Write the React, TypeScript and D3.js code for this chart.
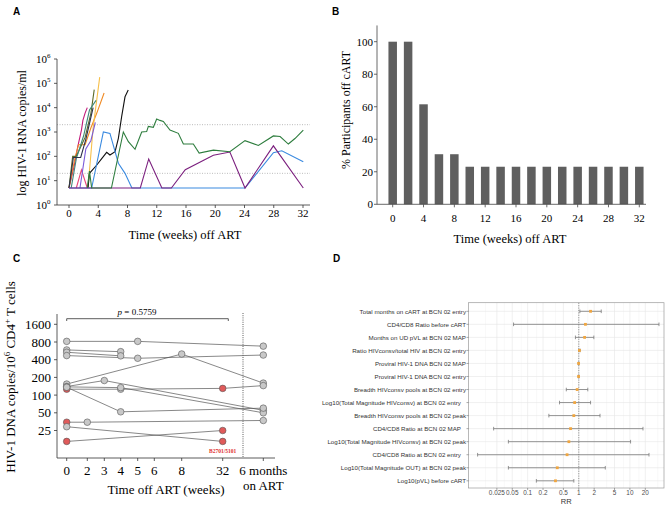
import React from "react";
import * as d3 from "d3";

// ---------- Panel A data: HIV-1 RNA (copies/ml) by week off ART ----------
type Pt = [number, number];
const aSeries: { color: string; pts: Pt[] }[] = [
  { color: "#c2187a", pts: [[0, 5], [0.7, 40], [1.2, 250], [1.7, 1200], [1.9, 3000], [2.2, 6000], [2.5, 10000]] },
  { color: "#e8457a", pts: [[1, 5], [1.7, 28], [2.5, 5]] },
  { color: "#f08a24", pts: [[0, 5], [0.8, 80], [1.3, 300], [2.2, 300], [3, 1500], [3.8, 6000], [4.8, 40000]] },
  { color: "#f7c04a", pts: [[2.6, 5], [3.3, 1500], [4.2, 180000]] },
  { color: "#5b6b2a", pts: [[0, 5], [0.5, 100], [1, 100], [2.2, 600], [3, 6000], [3.45, 55000]] },
  { color: "#3f8a7a", pts: [[0.3, 5], [1, 80], [2, 700], [2.8, 8000], [3.7, 20000]] },
  { color: "#7a5ad8", pts: [[1.5, 5], [2.3, 200], [3, 450], [3.6, 2500]] },
  { color: "#2b2f4a", pts: [[0, 5], [0.6, 90], [1.6, 90], [2.3, 500], [2.9, 3000], [3.3, 10000]] },
  { color: "#111111", pts: [[2.6, 5], [2.8, 20], [3.8, 44], [4.5, 83], [5.15, 146], [5.6, 113], [6.3, 155], [6.75, 550], [7.2, 4300], [7.66, 28000], [8.1, 53000]] },
  { color: "#3a8ae0", pts: [[0, 5], [3.1, 5], [4.7, 1000], [5.6, 880], [6.75, 52], [7.66, 20], [8.6, 5], [24.07, 5], [27.95, 140], [29.1, 170], [32.04, 60]] },
  { color: "#7b1f7e", pts: [[0, 5], [9.75, 5], [10.9, 78], [12.7, 5], [14, 5], [15.9, 28], [19.74, 110], [22, 150], [24.07, 5], [27.95, 270], [32.04, 5]] },
  { color: "#2e7d3e", pts: [[2.5, 5], [2.8, 25], [3.1, 5], [5.8, 5], [7.43, 1000], [8.12, 400], [9.03, 195], [9.94, 1000], [10.62, 1040], [10.85, 1700], [11.53, 1560], [11.99, 3400], [12.44, 3000], [12.9, 2700], [13.81, 1200], [14.95, 880], [15.64, 320], [17, 320], [17.8, 135], [19.74, 180], [22, 155], [24.07, 440], [25.9, 280], [27.95, 690], [28.87, 650], [30, 320], [30.9, 540], [32.04, 1200]] },
];
const aRefLines = [20, 2000];
const aXTicks = [0, 4, 8, 12, 16, 20, 24, 28, 32];
const aYExps = [0, 1, 2, 3, 4, 5, 6];

// ---------- Panel B data ----------
const bWeeks = [0, 2, 4, 6, 8, 10, 12, 14, 16, 18, 20, 22, 24, 26, 28, 30, 32];
const bValues = [100, 100, 61.5, 30.8, 30.8, 23.1, 23.1, 23.1, 23.1, 23.1, 23.1, 23.1, 23.1, 23.1, 23.1, 23.1, 23.1];
const bXTicks = [0, 4, 8, 12, 16, 20, 24, 28, 32];
const bYTicks = [0, 20, 40, 60, 80, 100];

// ---------- Panel C data ----------
// time keys: weeks, 40 = "6 months on ART"
const cTickKeys = [0, 2, 3, 4, 5, 6, 8, 32, 40];
const cTickLabels = ["0", "2", "3", "4", "5", "6", "8", "32", ""];
const cTickOffsets = [0, 20.6, 37.6, 54, 71, 87.6, 115, 156, 196.6];
const cYTicks = [25, 50, 100, 200, 400, 800, 1600];
// [timeKey, copies, isRed]
const cParticipants: [number, number, boolean][][] = [
  [[0, 820, false], [5, 820, false], [40, 680, false]],
  [[0, 586, false], [4, 548, false]],
  [[0, 535, false], [4, 465, false]],
  [[0, 470, false], [5, 423, false], [40, 480, false]],
  [[0, 154, false], [8, 500, false], [40, 160, false]],
  [[0, 126, true], [4, 126, false], [32, 130, true], [40, 145, false]],
  [[0, 140, false], [3, 177, false], [40, 55, false]],
  [[0, 138, false], [4, 134, false], [40, 50, false]],
  [[0, 136, false], [4, 52, false], [40, 60, false]],
  [[0, 34.6, true], [2, 34.6, false], [40, 37, false]],
  [[0, 29, false], [32, 16.3, true]],
  [[0, 16.3, true], [32, 25, true]],
];

// ---------- Panel D data ----------
const dLabels = [
  "Total months on cART at BCN 02 entry",
  "CD4/CD8 Ratio before cART",
  "Months on UD pVL at BCN 02 MAP",
  "Ratio HIVconsv/total HIV at BCN 02 entry",
  "Proviral HIV-1 DNA BCN 02 MAP",
  "Proviral HIV-1 DNA BCN 02 entry",
  "Breadth HIVconsv pools at BCN 02 entry",
  "Log10(Total Magnitude HIVconsv) at BCN 02 entry   ",
  "Breadth HIVconsv pools at BCN 02 peak",
  "CD4/CD8 Ratio at BCN 02 MAP   ",
  "Log10(Total Magnitude HIVconsv) at BCN 02 peak",
  "CD4/CD8 Ratio at BCN 02 entry   ",
  "Log10(Total Magnitude OUT) at BCN 02 peak",
  "Log10(pVL) before cART",
];
const dRR = [1.7, 1.35, 1.3, 1.03, 0.99, 0.99, 0.93, 0.83, 0.8, 0.69, 0.64, 0.59, 0.38, 0.35];
const dLow = [1.05, 0.053, 0.86, 1.0, 0.98, 0.98, 0.57, 0.42, 0.26, 0.0216, 0.042, 0.0105, 0.042, 0.148];
const dHigh = [2.75, 37, 1.97, 1.06, 1.01, 1.01, 1.5, 1.7, 2.6, 18, 10.3, 23.6, 3.3, 0.8];
const dTicks = [0.025, 0.05, 0.1, 0.2, 0.5, 1, 2, 5, 10, 20];
const dTickLabels = ["0.025", "0.05", "0.1", "0.2", "0.5", "1", "2", "5", "10", "20"];

const SERIF = "'Liberation Serif', 'Times New Roman', serif";
const SANS = "'Liberation Sans', Arial, sans-serif";

function PanelA() {
  const x = d3.scaleLinear().domain([0, 32]).range([69, 303]);
  const y = d3.scaleLog().domain([1, 1e6]).range([205, 59]);
  const line = d3.line<Pt>().x((d) => x(d[0])).y((d) => y(d[1]));
  const x0 = 57, x1 = 310, yb = 205;
  return (
    <g>
      <text x={13} y={15} fontFamily={SANS} fontWeight="bold" fontSize={10}>A</text>
      {aRefLines.map((v) => (
        <line key={v} x1={x0} x2={x1} y1={y(v)} y2={y(v)} stroke="#aaa" strokeWidth={0.8} strokeDasharray="1,1.5" />
      ))}
      {aSeries.map((s, i) => (
        <path key={i} d={line(s.pts) || ""} fill="none" stroke={s.color} strokeWidth={1.1} />
      ))}
      <line x1={x0} x2={x0} y1={y(1e6)} y2={yb} stroke="#333" strokeWidth={0.8} />
      <line x1={x0} x2={x1} y1={yb} y2={yb} stroke="#333" strokeWidth={0.8} />
      {aYExps.map((e) => (
        <g key={e}>
          <line x1={x0 - 3} x2={x0} y1={y(10 ** e)} y2={y(10 ** e)} stroke="#333" strokeWidth={0.8} />
          <text x={47} y={y(10 ** e) + 4} textAnchor="end" fontFamily={SERIF} fontSize={11}>10</text>
          <text x={47} y={y(10 ** e) - 1} fontFamily={SERIF} fontSize={7}>{e}</text>
        </g>
      ))}
      {aXTicks.map((t) => (
        <g key={t}>
          <line x1={x(t)} x2={x(t)} y1={yb} y2={yb + 3} stroke="#333" strokeWidth={0.8} />
          <text x={x(t)} y={217} textAnchor="middle" fontFamily={SERIF} fontSize={11}>{t}</text>
        </g>
      ))}
      <text x={185} y={239} textAnchor="middle" fontFamily={SERIF} fontSize={12.5}>Time (weeks) off ART</text>
      <text transform={`translate(26,133) rotate(-90)`} textAnchor="middle" fontFamily={SERIF} fontSize={12}>log HIV-1 RNA copies/ml</text>
    </g>
  );
}

function PanelB() {
  const x = d3.scaleLinear().domain([0, 32]).range([392.7, 639.3]);
  const y = d3.scaleLinear().domain([0, 100]).range([204.3, 41.7]);
  const bw = 8.5;
  const x0 = 377, x1 = 646;
  return (
    <g>
      <text x={332} y={15} fontFamily={SANS} fontWeight="bold" fontSize={10}>B</text>
      {bWeeks.map((w, i) => (
        <rect key={w} x={x(w) - bw / 2} y={y(bValues[i])} width={bw} height={y(0) - y(bValues[i])} fill="#5f5f5f" />
      ))}
      <line x1={x0} x2={x0} y1={y(110)} y2={y(0)} stroke="#444" strokeWidth={0.8} />
      <line x1={x0} x2={x1} y1={y(0)} y2={y(0)} stroke="#444" strokeWidth={0.8} />
      {bYTicks.map((t) => (
        <g key={t}>
          <line x1={x0 - 3} x2={x0} y1={y(t)} y2={y(t)} stroke="#444" strokeWidth={0.8} />
          <text x={373} y={y(t) + 4} textAnchor="end" fontFamily={SERIF} fontSize={11}>{t}</text>
        </g>
      ))}
      {bXTicks.map((t) => (
        <g key={t}>
          <line x1={x(t)} x2={x(t)} y1={y(0)} y2={y(0) + 3} stroke="#444" strokeWidth={0.8} />
          <text x={x(t)} y={222} textAnchor="middle" fontFamily={SERIF} fontSize={11}>{t}</text>
        </g>
      ))}
      <text x={510} y={243} textAnchor="middle" fontFamily={SERIF} fontSize={12.5}>Time (weeks) off ART</text>
      <text transform={`translate(350,110) rotate(-90)`} textAnchor="middle" fontFamily={SERIF} fontSize={12}>% Participants  off cART</text>
    </g>
  );
}

function PanelC() {
  const xBase = 66.7;
  const x = d3.scaleLinear().domain(cTickKeys).range(cTickOffsets.map((o) => xBase + o));
  const y = d3.scaleLog().base(2).domain([25, 1600]).range([430.5, 324.3]);
  const yAxisX = 57, yTop = 314, yBot = 458, xEnd = 275;
  const line = d3.line<[number, number, boolean]>().x((d) => x(d[0])).y((d) => y(d[1]));
  const sepX = (x(32) + x(40)) / 2;
  return (
    <g>
      <text x={13} y={262} fontFamily={SANS} fontWeight="bold" fontSize={10}>C</text>
      <line x1={yAxisX} x2={yAxisX} y1={yTop} y2={yBot} stroke="#333" strokeWidth={0.8} />
      <line x1={yAxisX} x2={xEnd} y1={yBot} y2={yBot} stroke="#333" strokeWidth={0.8} />
      <line x1={sepX} x2={sepX} y1={313} y2={yBot} stroke="#333" strokeWidth={0.8} strokeDasharray="1,1.2" />
      {cYTicks.map((t) => (
        <g key={t}>
          <line x1={yAxisX - 3} x2={yAxisX} y1={y(t)} y2={y(t)} stroke="#333" strokeWidth={0.8} />
          <text x={51} y={y(t) + 4.5} textAnchor="end" fontFamily={SERIF} fontSize={13}>{t}</text>
        </g>
      ))}
      {cTickKeys.map((k, i) => (
        <g key={k}>
          <line x1={x(k)} x2={x(k)} y1={yBot} y2={yBot + 3} stroke="#333" strokeWidth={0.8} />
          {cTickLabels[i] && (
            <text x={x(k)} y={475} textAnchor="middle" fontFamily={SERIF} fontSize={13}>{cTickLabels[i]}</text>
          )}
        </g>
      ))}
      <text x={x(40)} y={475} textAnchor="middle" fontFamily={SERIF} fontSize={13}>6 months</text>
      <text x={x(40)} y={490} textAnchor="middle" fontFamily={SERIF} fontSize={13}>on ART</text>
      <text x={166} y={494} textAnchor="middle" fontFamily={SERIF} fontSize={13}>Time off ART (weeks)</text>
      <text transform={`translate(15,377) rotate(-90)`} textAnchor="middle" fontFamily={SERIF} fontSize={13}>
        HIV-1 DNA copies/10<tspan dy={-5} fontSize={9}>6</tspan><tspan dy={5}> CD4</tspan><tspan dy={-5} fontSize={9}>+</tspan><tspan dy={5}> T cells</tspan>
      </text>
      {/* p-value bracket */}
      <path d={`M${x(0)},321 V318.7 H${x(32) + 5.6} V321`} fill="none" stroke="#333" strokeWidth={0.8} />
      <text x={137} y={315} textAnchor="middle" fontFamily={SERIF} fontSize={9}>
        <tspan fontStyle="italic">p</tspan> = 0.5759
      </text>
      {cParticipants.map((p, i) => (
        <path key={i} d={line(p) || ""} fill="none" stroke="#555" strokeWidth={0.7} />
      ))}
      {cParticipants.map((p, i) =>
        p.map((d, j) => (
          <circle key={`${i}-${j}`} cx={x(d[0])} cy={y(d[1])} r={3.3} fill={d[2] ? "#e05a5a" : "#c8c8c8"} stroke="#555" strokeWidth={0.6} />
        ))
      )}
      <text x={x(32)} y={y(16.3) + 12} textAnchor="middle" fontFamily={SERIF} fontWeight="bold" fontSize={5.5} fill="#e03030">B2701/5101</text>
    </g>
  );
}

function PanelD() {
  const left = 468.5, right = 664, top = 302.7, bottom = 488;
  const x = d3.scaleLog().domain([0.00697, 46.4]).range([left, right]);
  const y = d3.scalePoint<string>().domain(dLabels).range([311.3, 480.8]);
  const minor = [0.015, 0.035, 0.075, 0.15, 0.35, 0.75, 1.5, 3.5, 7.5, 15, 35];
  return (
    <g>
      <text x={333} y={262} fontFamily={SANS} fontWeight="bold" fontSize={10}>D</text>
      <rect x={left} y={top} width={right - left} height={bottom - top} fill="#fff" />
      {minor.filter((m) => x(m) > left && x(m) < right).map((m) => (
        <line key={"m" + m} x1={x(m)} x2={x(m)} y1={top} y2={bottom} stroke="#f3f3f3" strokeWidth={0.5} />
      ))}
      {dTicks.map((t) => (
        <line key={t} x1={x(t)} x2={x(t)} y1={top} y2={bottom} stroke="#e6e6e6" strokeWidth={0.6} />
      ))}
      {dLabels.map((l) => (
        <line key={l} x1={left} x2={right} y1={y(l)} y2={y(l)} stroke="#e6e6e6" strokeWidth={0.6} />
      ))}
      <line x1={x(1)} x2={x(1)} y1={top} y2={bottom} stroke="#555" strokeWidth={0.6} strokeDasharray="1.2,1.2" />
      {dLabels.map((l, i) => (
        <g key={l}>
          <line x1={x(dLow[i])} x2={x(dHigh[i])} y1={y(l)} y2={y(l)} stroke="#7a7a7a" strokeWidth={0.8} />
          <line x1={x(dLow[i])} x2={x(dLow[i])} y1={y(l)! - 1.8} y2={y(l)! + 1.8} stroke="#7a7a7a" strokeWidth={0.8} />
          <line x1={x(dHigh[i])} x2={x(dHigh[i])} y1={y(l)! - 1.8} y2={y(l)! + 1.8} stroke="#7a7a7a" strokeWidth={0.8} />
          <rect x={x(dRR[i]) - 1.4} y={y(l)! - 1.4} width={2.8} height={2.8} fill="#f0a640" />
        </g>
      ))}
      <rect x={left} y={top} width={right - left} height={bottom - top} fill="none" stroke="#9a9a9a" strokeWidth={0.7} />
      {dLabels.map((l) => (
        <g key={"t" + l}>
          <line x1={left - 2} x2={left} y1={y(l)} y2={y(l)} stroke="#555" strokeWidth={0.5} />
          <text x={left - 2.5} y={y(l)! + 2.2} textAnchor="end" fontFamily={SANS} fontSize={6.2} fill="#333" style={{ whiteSpace: "pre" }}>{l}</text>
        </g>
      ))}
      {dTicks.map((t, i) => (
        <g key={"xt" + t}>
          <line x1={x(t)} x2={x(t)} y1={bottom} y2={bottom + 2} stroke="#555" strokeWidth={0.5} />
          <text x={x(t)} y={495} textAnchor="middle" fontFamily={SANS} fontSize={6.4} fill="#4d4d4d">{dTickLabels[i]}</text>
        </g>
      ))}
      <text x={(left + right) / 2} y={503.5} textAnchor="middle" fontFamily={SANS} fontSize={7.5} fill="#333">RR</text>
    </g>
  );
}

export default function App() {
  return (
    <div style={{ position: "absolute", left: 0, top: 0, width: 669, height: 507, background: "#fff" }}>
      <svg width={669} height={507} viewBox="0 0 669 507" style={{ display: "block" }}>
        <rect width={669} height={507} fill="#fff" />
        <PanelA />
        <PanelB />
        <PanelC />
        <PanelD />
      </svg>
    </div>
  );
}
